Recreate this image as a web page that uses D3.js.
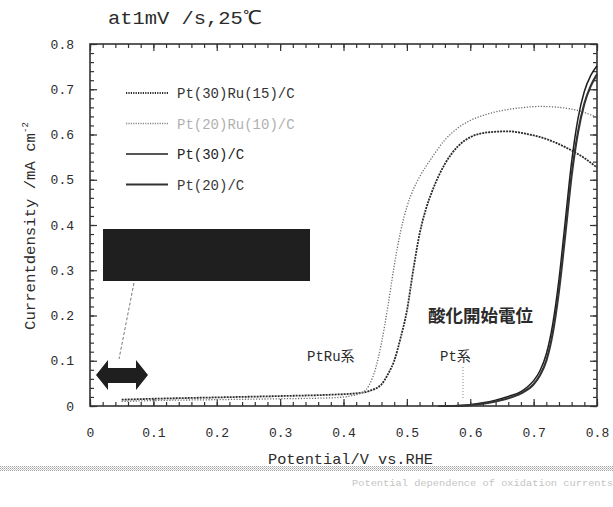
<!DOCTYPE html>
<html lang="ja">
<head>
<meta charset="UTF-8">
<script src="https://d3js.org/d3.v7.min.js"></script>
<title>oxidation onset</title>
<style>
  body { margin: 0; background: #fff; }
  svg text { font-family: "Liberation Mono", "DejaVu Sans Mono", monospace; fill: #2b2b2b; }
  .jp { font-family: "Noto Sans CJK JP", sans-serif; }
</style>
</head>
<body>
<svg width="613" height="507"></svg>
<script>
// potential (V vs RHE) / current density (mA cm-2)
var ptRu3015 = [[0.05,0.014],[0.10,0.016],[0.20,0.019],[0.30,0.022],[0.38,0.025],[0.42,0.028],[0.44,0.033],
                [0.46,0.048],[0.47,0.07],[0.48,0.10],[0.49,0.15],[0.50,0.21],[0.51,0.30],[0.52,0.38],
                [0.53,0.435],[0.54,0.475],[0.55,0.508],[0.56,0.535],[0.58,0.573],[0.60,0.594],[0.63,0.605],
                [0.66,0.607],[0.69,0.601],[0.72,0.59],[0.75,0.572],[0.78,0.548],[0.80,0.527]];
var ptRu2010 = [[0.05,0.010],[0.10,0.012],[0.20,0.014],[0.30,0.016],[0.38,0.018],[0.41,0.022],[0.43,0.030],
                [0.44,0.045],[0.45,0.08],[0.46,0.14],[0.47,0.22],[0.48,0.31],[0.49,0.385],[0.50,0.44],
                [0.51,0.478],[0.52,0.506],[0.54,0.55],[0.56,0.588],[0.58,0.614],[0.60,0.631],[0.62,0.642],
                [0.65,0.653],[0.68,0.659],[0.71,0.662],[0.74,0.66],[0.77,0.653],[0.80,0.638]];
var pt30 = [[0.55,0.0],[0.58,0.001],[0.60,0.003],[0.62,0.007],[0.64,0.013],[0.66,0.021],[0.68,0.032],
            [0.69,0.042],[0.70,0.056],[0.71,0.078],[0.72,0.115],[0.73,0.18],[0.74,0.28],[0.75,0.41],
            [0.76,0.54],[0.77,0.635],[0.78,0.695],[0.79,0.73],[0.80,0.752]];
var pt20 = [[0.55,0.0],[0.58,0.0],[0.60,0.002],[0.62,0.005],[0.64,0.010],[0.66,0.017],[0.68,0.028],
            [0.70,0.048],[0.71,0.068],[0.72,0.10],[0.73,0.16],[0.74,0.255],[0.75,0.38],[0.76,0.51],
            [0.77,0.605],[0.78,0.668],[0.79,0.707],[0.80,0.733]];

var legendLabels = ["Pt(30)Ru(15)/C", "Pt(20)Ru(10)/C", "Pt(30)/C", "Pt(20)/C"];
var tickValues = [0, 0.1, 0.2, 0.3, 0.4, 0.5, 0.6, 0.7, 0.8];
var tickLabels = ["0", "0.1", "0.2", "0.3", "0.4", "0.5", "0.6", "0.7", "0.8"];
var minorValues = d3.range(0, 41).map(function(i) { return i * 0.02; });

var svg = d3.select("svg");

var x = d3.scaleLinear().domain([0, 0.8]).range([90, 597]);
var y = d3.scaleLinear().domain([0, 0.8]).range([406, 44]);

// halftone pattern for the scan band
var defs = svg.append("defs");
var pat = defs.append("pattern").attr("id", "dots")
    .attr("width", 2).attr("height", 2).attr("patternUnits", "userSpaceOnUse");
pat.append("rect").attr("width", 1).attr("height", 1).attr("fill", "#999");
pat.append("rect").attr("x", 1).attr("y", 1).attr("width", 1).attr("height", 1).attr("fill", "#bbb");

// title
svg.append("text")
   .attr("x", 108).attr("y", 24)
   .attr("textLength", 154).attr("lengthAdjust", "spacingAndGlyphs")
   .style("font-size", "19px")
   .text("at1mV /s,25\u2103");

// axes: ticks point inwards on all four sides
function tickAxis(axis, values, size) {
    return axis.tickValues(values).tickSize(size).tickFormat("");
}
var fmt = function(d, i) { return tickLabels[i]; };

svg.append("g").attr("transform", "translate(0,406)")
   .call(d3.axisBottom(x).tickValues(tickValues).tickSize(-7).tickPadding(22).tickFormat(fmt))
   .call(function(g) { g.selectAll("text").style("font-size", "13px").attr("fill", "#2b2b2b")
                        .style("font-family", "Liberation Mono"); });
svg.append("g").attr("transform", "translate(0,406)").call(tickAxis(d3.axisBottom(x), minorValues, -4));
svg.append("g").attr("transform", "translate(0,44)").call(tickAxis(d3.axisTop(x), tickValues, -7));
svg.append("g").attr("transform", "translate(0,44)").call(tickAxis(d3.axisTop(x), minorValues, -4));

svg.append("g").attr("transform", "translate(90,0)")
   .call(d3.axisLeft(y).tickValues(tickValues).tickSize(-7).tickPadding(16).tickFormat(fmt))
   .call(function(g) { g.selectAll("text").style("font-size", "13px").attr("fill", "#2b2b2b")
                        .style("font-family", "Liberation Mono"); });
svg.append("g").attr("transform", "translate(90,0)").call(tickAxis(d3.axisLeft(y), minorValues, -4));
svg.append("g").attr("transform", "translate(597,0)").call(tickAxis(d3.axisRight(y), tickValues, -7));
svg.append("g").attr("transform", "translate(597,0)").call(tickAxis(d3.axisRight(y), minorValues, -4));

svg.selectAll(".domain").remove();
svg.selectAll(".tick line").attr("stroke", "#333").attr("stroke-width", 1.2);

svg.append("rect")
   .attr("x", x(0)).attr("y", y(0.8))
   .attr("width", x(0.8) - x(0)).attr("height", y(0) - y(0.8))
   .attr("fill", "none").attr("stroke", "#333").attr("stroke-width", 1.6);

// axis titles
svg.append("text")
   .attr("x", 268).attr("y", 464)
   .attr("textLength", 165).attr("lengthAdjust", "spacingAndGlyphs")
   .style("font-size", "15px")
   .text("Potential/V vs.RHE");

var ylab = svg.append("text")
   .attr("transform", "translate(35,330) rotate(-90)")
   .style("font-size", "14px");
ylab.append("tspan").attr("textLength", 197).attr("lengthAdjust", "spacingAndGlyphs")
    .text("Currentdensity /mA cm");
ylab.append("tspan").attr("dy", -7).style("font-size", "9px").text("-2");

// curves
var line = d3.line()
    .x(function(d) { return x(d[0]); })
    .y(function(d) { return y(d[1]); })
    .curve(d3.curveMonotoneX);

var series = [
    { data: ptRu3015, color: "#2a2a2a", width: 1.8, dash: "2,1" },
    { data: ptRu2010, color: "#6a6a6a", width: 1.3, dash: "1.2,1.6" },
    { data: pt30,     color: "#1e1e1e", width: 1.5, dash: null },
    { data: pt20,     color: "#333",    width: 2.2, dash: null }
];

svg.append("g").selectAll("path")
   .data(series)
   .enter().append("path")
   .attr("d", function(d) { return line(d.data); })
   .attr("fill", "none")
   .attr("stroke", function(d) { return d.color; })
   .attr("stroke-width", function(d) { return d.width; })
   .attr("stroke-dasharray", function(d) { return d.dash; });

// legend
var legendColors = ["#333", "#b0b0b0", "#222", "#3a3a3a"];
var legend = svg.append("g").selectAll("g")
    .data(series)
    .enter().append("g")
    .attr("transform", function(d, i) { return "translate(126," + (93 + i * 30.5) + ")"; });

legend.append("line")
      .attr("x1", 0).attr("x2", 42)
      .attr("stroke", function(d, i) { return i == 1 ? "#888" : d.color; })
      .attr("stroke-width", function(d) { return d.width; })
      .attr("stroke-dasharray", function(d, i) { return i < 2 ? "1.2,1.2" : null; });

legend.append("text")
      .attr("x", 51).attr("y", 5)
      .style("font-size", "14px")
      .attr("fill", function(d, i) { return legendColors[i]; })
      .style("fill", function(d, i) { return legendColors[i]; })
      .text(function(d, i) { return legendLabels[i]; });

// redaction block, pointer and double arrow
svg.append("rect")
   .attr("x", 103).attr("y", 229).attr("width", 207).attr("height", 52)
   .attr("fill", "#1f1f1f");

svg.append("line")
   .attr("x1", 134).attr("y1", 283).attr("x2", 119).attr("y2", 359)
   .attr("stroke", "#777").attr("stroke-width", 1).attr("stroke-dasharray", "3,2");

svg.append("path")
   .attr("d", "M96,375 L108,360 L108,368 L136,368 L136,360 L148,375 L136,390 L136,383 L108,383 L108,390 Z")
   .attr("fill", "#1f1f1f");

// annotations
svg.append("text")
   .attr("x", 307).attr("y", 361)
   .style("font-size", "14px")
   .html("PtRu<tspan class='jp'>系</tspan>");

svg.append("text")
   .attr("x", 440).attr("y", 361)
   .style("font-size", "14px")
   .html("Pt<tspan class='jp'>系</tspan>");

svg.append("text")
   .attr("class", "jp")
   .attr("x", 428).attr("y", 322)
   .style("font-size", "17.5px").style("font-weight", "bold")
   .text("酸化開始電位");

svg.append("line")
   .attr("x1", 463).attr("y1", 367).attr("x2", 463).attr("y2", 398)
   .attr("stroke", "#888").attr("stroke-width", 1).attr("stroke-dasharray", "1,2");

// scan band and faint caption
svg.append("rect")
   .attr("x", 0).attr("y", 466).attr("width", 613).attr("height", 5)
   .attr("fill", "url(#dots)").attr("opacity", 0.9);

svg.append("text")
   .attr("x", 352).attr("y", 486)
   .attr("textLength", 261).attr("lengthAdjust", "spacingAndGlyphs")
   .style("font-size", "9px").style("fill", "#c4c4c4")
   .text("Potential dependence of oxidation currents");
</script>
</body>
</html>
